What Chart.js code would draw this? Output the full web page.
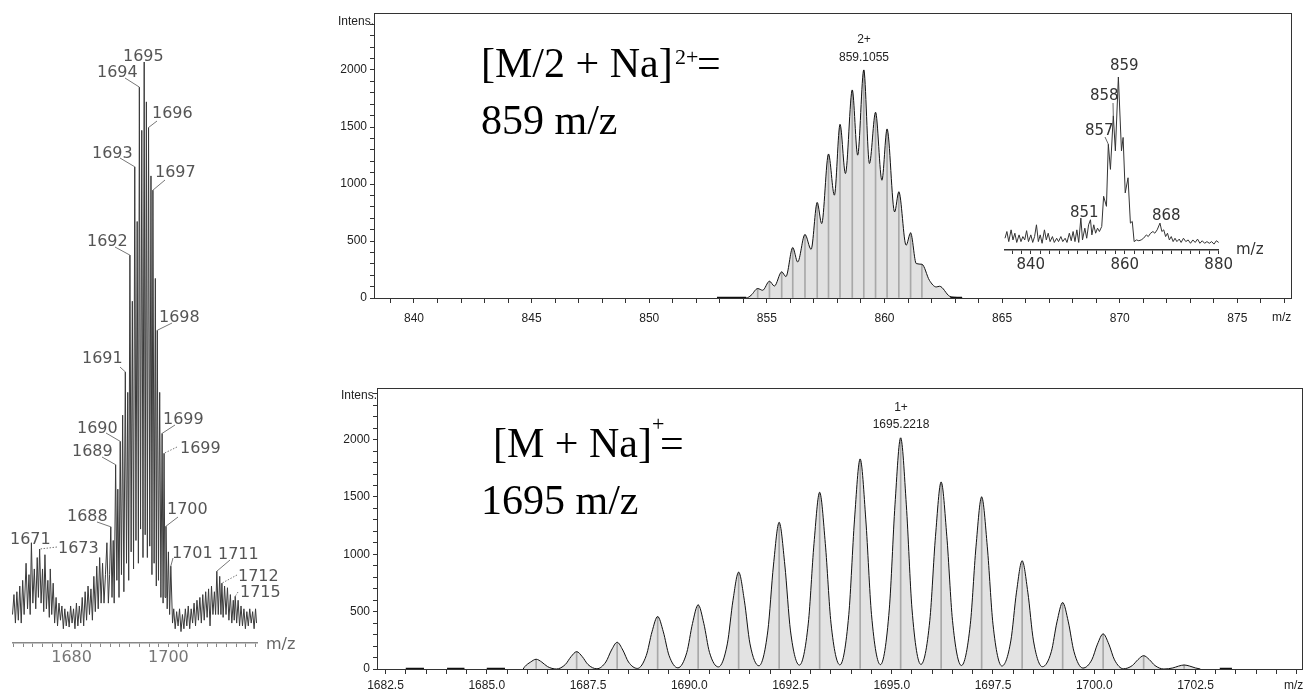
<!DOCTYPE html>
<html>
<head>
<meta charset="utf-8">
<title>MS spectra</title>
<script src="https://cdn.jsdelivr.net/npm/chart.js@4.4.1/dist/chart.umd.min.js"></script>
<style>
  html,body{margin:0;padding:0;background:#fff}
  #fig{position:relative;width:1304px;height:697px;overflow:hidden;background:#fff}
  #fig canvas{position:absolute}
  .t{position:absolute;white-space:nowrap;line-height:1}
  .pk{font-family:"DejaVu Sans",sans-serif;font-size:16px;color:#555}
  .ins{font-family:"DejaVu Sans",sans-serif;font-size:15px;color:#333}
  .nar{font-family:"Liberation Sans Narrow","Arial Narrow","Liberation Sans",sans-serif;font-size:12px;color:#222}
  .ctr{transform:translateX(-50%)}
  .big{font-family:"Liberation Serif","Times New Roman",serif;font-size:42px;color:#000}
  .sup{font-family:"Liberation Serif","Times New Roman",serif;font-size:22px;color:#000}
</style>
</head>
<body>
<div id="fig">
  <canvas id="cLeft" width="300" height="697" style="left:0;top:0;width:300px;height:697px"></canvas>
  <canvas id="cTop" width="974" height="340" style="left:330px;top:0;width:974px;height:340px"></canvas>
  <canvas id="cBot" width="974" height="327" style="left:330px;top:370px;width:974px;height:327px"></canvas>
  <canvas id="cIns" width="240" height="220" style="left:995px;top:60px;width:240px;height:220px"></canvas>

  <div class="t big" style="left:481px;top:42px">[M/2 + Na]</div>
  <div class="t sup" style="left:675px;top:46px">2+</div>
  <div class="t big" style="left:697px;top:42px">=</div>
  <div class="t big" style="left:481px;top:99px">859 m/z</div>

  <div class="t big" style="left:493px;top:422px">[M + Na]</div>
  <div class="t sup" style="left:652px;top:413px">+</div>
  <div class="t big" style="left:660px;top:422px">=</div>
  <div class="t big" style="left:481px;top:479px">1695 m/z</div>

  <div class="t nar" style="left:338px;top:15px">Intens.</div>
  <div class="t nar ctr" style="left:864px;top:33px">2+</div>
  <div class="t nar ctr" style="left:864px;top:51px">859.1055</div>
  <div class="t nar" style="left:1272px;top:311px">m/z</div>

  <div class="t nar" style="left:341px;top:389px">Intens.</div>
  <div class="t nar ctr" style="left:901px;top:401px">1+</div>
  <div class="t nar ctr" style="left:901px;top:418px">1695.2218</div>
  <div class="t nar" style="left:1284px;top:679px">m/z</div>

  <div class="t ins" style="left:1236px;top:242px">m/z</div>
  <div class="t pk" style="left:266px;top:636px;color:#666">m/z</div>
</div>
<script>
// ---------- left panel: raw spectrum (relative intensity, %) ----------
const leftMz = [
  1667.8,1668.1,1668.4,1668.7,1669.0,1669.3,1669.6,1669.9,1670.2,1670.6,1670.9,1671.2,1671.45,1671.7,
  1672.0,1672.3,1672.6,1672.9,1673.15,1673.4,1673.7,1674.0,1674.25,1674.5,1674.8,1675.1,1675.4,1675.6,
  1675.9,1676.2,1676.5,1676.8,1677.1,1677.4,1677.7,1678.0,1678.3,1678.6,1678.9,1679.2,1679.5,1679.8,
  1680.1,1680.4,1680.7,1681.0,1681.3,1681.6,1681.9,1682.2,1682.5,1682.8,1683.1,1683.4,1683.7,1684.0,
  1684.3,1684.6,1684.9,1685.2,1685.5,1685.8,1686.1,1686.4,1686.7,1687.0,1687.3,1687.6,1687.85,
  1688.1,1688.35,1688.6,1688.8,1689.1,1689.35,1689.55,1689.8,1690.05,1690.3,1690.55,1690.8,
  1691.1,1691.35,1691.6,1691.8,1692.05,1692.3,1692.55,1692.8,1693.05,1693.3,1693.55,1693.8,
  1694.0,1694.25,1694.5,1694.75,1695.0,1695.2,1695.45,1695.65,1695.9,1696.15,1696.4,1696.6,
  1696.8,1697.05,1697.3,1697.5,1697.7,1697.95,1698.2,1698.45,1698.7,1698.9,1699.1,1699.3,
  1699.5,1699.75,1700.0,1700.25,1700.5,1700.85,
  1701.1,1701.4,1701.7,1702.0,1702.3,1702.6,1702.9,1703.2,1703.5,1703.8,1704.1,1704.4,1704.7,
  1705.0,1705.3,1705.6,1705.9,1706.2,1706.5,1706.8,1707.1,1707.4,1707.7,1708.0,1708.3,1708.6,
  1708.9,1709.2,1709.5,1709.75,1710.0,1710.3,1710.6,1710.85,1711.05,1711.3,1711.6,1711.9,1712.2,
  1712.5,1712.8,1713.1,1713.4,1713.6,1713.8,1714.1,1714.4,1714.7,1715.0,1715.3,1715.6,1715.9,
  1716.2,1716.5,1716.8,1717.1,1717.4,1717.7,1718.0,1718.2
]
const leftInt = [
  3,6.5,1.5,7,2,8,1.5,9,3,12,4,10,3,15.6,
  5,11,4,13,6,14.5,5,11,3.5,13.5,4,9,2.5,11,
  3,8.5,1.5,6,1,5,2,4.5,0.5,4,1,3.5,0.8,4.5,
  1.5,4,0.5,5,1,4.5,1.5,6,1,7,2,8,3,7.5,
  2,9.7,3.5,11.5,4,13,5,12,5,10,15.6,5,10,
  18.4,6,16,5,29.3,9,25,6,33.4,10,38,7,
  45.6,12,42,9,66.1,14,58,11,81.6,16,72,12,
  95.6,18,88,13,100,17,93,13,88.5,15,80,10,
  77.5,12,62,8,52.9,9,42,6,34.8,5,31.3,6,
  18.5,4,14,3,11.5,1.5,
  4,0.5,3.5,1,4,0,3,0.5,4,1,4.5,0.5,4,
  1.5,5,1,5.5,2,6,1.5,6.5,2,7,2.5,7.5,1,
  8,3,7,3,10.6,3,9.7,3,8.5,2.5,8,3,7.7,
  2,6.5,1.5,5.5,2,6.2,1.5,5.5,1,4.5,1,4,0.5,
  3.5,1,4,1.5,3.5,0.5,4,1.5
]
const leftTickLabels = [1680, 1700]
// labelled peaks: text, peak m/z (value looked up in leftInt)
const leftPeakText = ['1695','1694','1696','1693','1697','1692','1698','1691','1699','1690','1699','1689','1688','1700','1671','1673','1701','1711','1712','1715']
const leftPeakMz   = [1695.0,1694.0,1695.9,1693.05,1696.8,1692.05,1697.7,1691.1,1698.7,1690.05,1699.1,1689.1,1688.1,1699.5,1671.7,1673.4,1700.5,1710.0,1711.05,1713.8]

// ---------- top panel: [M/2+Na]2+ ----------
const topMz  = [852.88,854.12,854.33,854.61,854.82,855.11,855.32,855.63,855.81,856.10,856.31,856.62,856.88,857.14,857.33,857.62,857.87,858.11,858.34,858.63,858.86,859.12,859.36,859.62,859.89,860.11,860.43,860.61,860.92,861.11,861.35,861.59,861.91,862.20,862.34,862.77,863.05,863.3]
const topInt = [0,0,24,83,68,147,105,229,188,442,316,557,427,837,653,1262,902,1522,1092,1824,1253,2000,1180,1628,1033,1481,755,931,463,571,302,296,155,97,103,15,5,0]
const topStickMz  = [854.61,855.11,855.63,856.10,856.62,857.14,857.62,858.11,858.63,859.12,859.62,860.11,860.61,861.11,861.59]
const topStickInt = [83,147,229,442,557,837,1262,1522,1824,2000,1628,1481,931,571,296]
const topFlatMz  = [852.88,854.12,858,862.8,863.3]
const topFlatInt = [0,0,null,0,0]

// ---------- inset: low-resolution spectrum around 859 ----------
const insMz = [834.5,834.9,835.3,835.8,836.2,836.6,837.0,837.5,837.9,838.3,838.7,839.1,839.5,840.0,840.4,840.8,841.2,841.6,842.0,842.4,842.9,843.3,843.7,844.1,844.6,845.0,845.5,845.9,846.4,846.8,847.3,847.7,848.2,848.6,849.0,849.4,849.8,850.2,850.65,851.0,851.5,851.9,852.3,852.7,853.0,853.4,853.8,854.2,854.6,855.1,855.5,856.1,856.5,856.95,857.56,858.0,858.64,859.3,859.65,860.1,860.7,861.2,861.6,862.0,862.5,863.0,863.5,864.0,864.6,865.0,865.5,866.0,866.4,866.9,867.5,867.9,868.3,868.7,869.1,869.5,869.9,870.3,870.7,871.1,871.6,872.0,872.5,873.0,873.5,874.0,874.5,875.0,875.5,876.0,876.5,877.0,877.5,878.0,878.5,879.0,879.5,880.0]
const insInt = [4,8,2,9,3,7,1.5,6,2,5,3,8.5,2,6,1.5,5,12,2,6,1,9,3,7,2,5,1.5,4,2,5,2,4,1.5,7,2.5,8,2,9,1.5,16,3,10,4,12,15,6,12,7,10,8,11,29,23,60,45,77,56,100,56,64,31,40,13,14,2,3,2.5,3,4,6,5,7,8,7,9,13,8,9,5,7,3,5,2,4,2,3.5,1.5,4,2,3,1,3,1.5,3.5,1,2.5,1,2,1,2,0.5,2.5,1.5]
const insTickLabels = [840, 860, 880]
const insPeakText = ['859','858','857','851','868']
const insPeakMz   = [858.64,857.56,856.5,850.65,867.5]

// ---------- bottom panel: [M+Na]+ ----------
const botMz = [1685.9,
  1685.94,1686.08,1686.22,1686.36,1686.5,1686.72,
  1686.94,1687.08,1687.22,1687.36,1687.5,1687.72,
  1687.94,1688.08,1688.22,1688.36,1688.5,1688.72,
  1688.94,1689.08,1689.22,1689.36,1689.5,1689.72,
  1689.94,1690.08,1690.22,1690.36,1690.5,1690.72,
  1690.94,1691.08,1691.22,1691.36,1691.5,1691.72,
  1691.94,1692.08,1692.22,1692.36,1692.5,1692.72,
  1692.94,1693.08,1693.22,1693.36,1693.5,1693.72,
  1693.94,1694.08,1694.22,1694.36,1694.5,1694.72,
  1694.94,1695.08,1695.22,1695.36,1695.5,1695.72,
  1695.94,1696.08,1696.22,1696.36,1696.5,1696.72,
  1696.94,1697.08,1697.22,1697.36,1697.5,1697.72,
  1697.94,1698.08,1698.22,1698.36,1698.5,1698.72,
  1698.94,1699.08,1699.22,1699.36,1699.5,1699.72,
  1699.94,1700.08,1700.22,1700.36,1700.5,1700.72,
  1700.94,1701.08,1701.22,1701.36,1701.5,1701.72,
  1701.94,1702.08,1702.22,1702.36,1702.5,1702.62]
const botInt = [0,
  21,60,85,60,21,0,
  39,107,151,107,39,2,
  61,165,233,165,61,5,
  119,324,457,324,119,10,
  145,397,559,397,145,18,
  219,599,844,599,219,28,
  332,907,1278,907,332,34,
  400,1093,1540,1093,400,36,
  476,1300,1831,1300,476,38,
  524,1431,2015,1431,524,40,
  424,1157,1630,1157,424,30,
  390,1065,1500,1065,390,26,
  245,670,943,670,245,20,
  151,411,579,411,151,8,
  80,217,306,217,80,2,
  30,82,116,82,30,0,
  9,25,35,25,9,0]
const botStickMz  = [1686.22,1687.22,1688.22,1689.22,1690.22,1691.22,1692.22,1693.22,1694.22,1695.22,1696.22,1697.22,1698.22,1699.22,1700.22,1701.22,1702.22]
const botStickInt = [85,151,233,457,559,844,1278,1540,1831,2015,1630,1500,943,579,306,116,35]
const botFlatMz  = [1683.0,1683.45,1683.7,1684.02,1684.45,1684.7,1685.0,1685.45,1695,1703.1,1703.4]
const botFlatInt = [0,0,null,0,0,null,0,0,null,0,0]

// ---------- helpers ----------
const pts = (xs, ys) => xs.map((x, i) => ({ x, y: ys[i] }))
const narrow = { family: '"Liberation Sans Narrow","Arial Narrow","Liberation Sans",sans-serif', size: 12 }
const wide = size => ({ family: '"DejaVu Sans",sans-serif', size })
const near = (v, step) => Math.abs(v / step - Math.round(v / step)) < 1e-6

const framePlugin = {
  id: 'frame',
  afterDraw(chart) {
    const a = chart.chartArea, c = chart.ctx
    c.save(); c.strokeStyle = '#333'; c.lineWidth = 1
    c.strokeRect(Math.round(a.left) + 0.5, Math.round(a.top) + 0.5, Math.round(a.right - a.left), Math.round(a.bottom - a.top))
    c.restore()
  }
}

// leader lines: from a label (page px) to the peak read through the scales
function leaders(items, mzArr, intArr, dx, dy, color) {
  return {
    id: 'leaders',
    afterDatasetsDraw(chart) {
      const { ctx, scales } = chart
      ctx.save(); ctx.strokeStyle = color; ctx.lineWidth = 1
      items.forEach(it => {
        const i = mzArr.indexOf(it.mz)
        ctx.setLineDash(it.dotted ? [1.5, 1.5] : [])
        ctx.beginPath()
        ctx.moveTo(it.fx - dx, it.fy - dy)
        ctx.lineTo(scales.x.getPixelForValue(it.mz), scales.y.getPixelForValue(intArr[i]))
        ctx.stroke()
      })
      ctx.restore()
    }
  }
}

function peakLabels(texts, boxes, cls) {
  const fig = document.getElementById('fig')
  texts.forEach((t, i) => {
    if (!boxes[i]) return
    const d = document.createElement('div')
    d.className = 't ' + cls
    d.style.left = boxes[i][0] + 'px'; d.style.top = boxes[i][1] + 'px'
    d.textContent = t
    fig.appendChild(d)
  })
}

const base = { responsive: false, animation: false, devicePixelRatio: 1, events: [] }
const noPlug = { legend: { display: false }, tooltip: { enabled: false } }

// ---------- left panel ----------
const leftLeaderItems = [
  { mz: 1694.0, fx: 125, fy: 78 }, { mz: 1695.9, fx: 157, fy: 121 }, { mz: 1693.05, fx: 120, fy: 158 },
  { mz: 1696.8, fx: 165, fy: 180 }, { mz: 1692.05, fx: 115, fy: 247 }, { mz: 1697.7, fx: 172, fy: 323 },
  { mz: 1691.1, fx: 120, fy: 367 }, { mz: 1698.7, fx: 175, fy: 425 }, { mz: 1690.05, fx: 106, fy: 433 },
  { mz: 1699.1, fx: 177, fy: 447, dotted: true }, { mz: 1689.1, fx: 102, fy: 457 }, { mz: 1688.1, fx: 97, fy: 522 },
  { mz: 1699.5, fx: 178, fy: 517 }, { mz: 1673.4, fx: 57, fy: 547, dotted: true }, { mz: 1700.5, fx: 173, fy: 558 },
  { mz: 1710.0, fx: 230, fy: 560 }, { mz: 1711.05, fx: 237, fy: 575, dotted: true }, { mz: 1713.8, fx: 238, fy: 592, dotted: true }
]
new Chart(document.getElementById('cLeft'), {
  type: 'line',
  data: { datasets: [{ data: pts(leftMz, leftInt), borderColor: '#3a3a3a', borderWidth: 1, pointRadius: 0, tension: 0, clip: false }] },
  options: {
    ...base,
    layout: { padding: { left: 13, right: 43, top: 62, bottom: 14 } },
    plugins: noPlug,
    scales: {
      x: {
        type: 'linear', min: 1667.9, max: 1718.3, afterFit: s => { s.height = 40 },
        border: { color: '#888', width: 1.5 },
        grid: { drawOnChartArea: false, drawTicks: true, tickLength: 4, color: '#888' },
        ticks: { stepSize: 2, includeBounds: false, autoSkip: false, maxRotation: 0, padding: 1, color: '#777', font: wide(16),
                 callback: v => leftTickLabels.includes(v) ? String(v) : '' }
      },
      y: { display: false, min: -2, max: 100 }
    }
  },
  plugins: [leaders(leftLeaderItems, leftMz, leftInt, 0, 0, '#777')]
})
peakLabels(leftPeakText, [[123,48],[97,64],[152,105],[92,145],[155,164],[87,233],[159,309],[82,350],[163,411],[77,420],
  [180,440],[72,443],[67,508],[167,501],[10,531],[58,540],[172,545],[218,546],[238,568],[240,584]], 'pk')

// ---------- top / bottom panels ----------
function specChart(id, o) {
  return new Chart(document.getElementById(id), {
    type: 'line',
    data: { datasets: [
      { data: o.line, borderWidth: 1, borderColor: '#111', pointRadius: 0, cubicInterpolationMode: 'monotone', fill: false, order: 0 },
      { type: 'bar', data: o.sticks, backgroundColor: o.stickColor, borderWidth: 0, barThickness: 1, order: 1 },
      { data: o.line, borderWidth: 0, backgroundColor: o.fillColor, pointRadius: 0, cubicInterpolationMode: 'monotone', fill: 'origin', order: 2 },
      { data: o.flat, borderWidth: 2.5, borderColor: '#111', pointRadius: 0, spanGaps: false, fill: false, order: 0 }
    ] },
    options: {
      ...base,
      layout: { padding: o.pad },
      plugins: noPlug,
      scales: {
        x: {
          type: 'linear', min: o.xmin, max: o.xmax, offset: false, afterFit: s => { s.height = o.xh },
          border: { color: '#333', width: 1 },
          grid: { offset: false, drawOnChartArea: false, drawTicks: true, tickLength: 5, color: '#333' },
          ticks: { stepSize: o.xstep, includeBounds: false, autoSkip: false, maxRotation: 0, padding: o.xpad, color: '#222', font: narrow, callback: o.xcb }
        },
        y: {
          min: 0, max: o.ymax, afterFit: s => { s.width = o.yw },
          afterBuildTicks: s => { s.ticks = s.ticks.filter(t => t.value < 2500) },
          border: { color: '#333', width: 1 },
          grid: { drawOnChartArea: false, drawTicks: true, tickLength: 4, color: '#333' },
          ticks: { stepSize: 100, includeBounds: false, autoSkip: false, padding: 3, color: '#222', font: narrow,
                   callback: v => near(v, 500) ? String(v) : '' }
        }
      }
    },
    plugins: [framePlugin]
  })
}

specChart('cTop', {
  line: pts(topMz, topInt), sticks: pts(topStickMz, topStickInt), flat: pts(topFlatMz, topFlatInt),
  stickColor: '#a8a8a8', fillColor: '#e1e1e1',
  pad: { left: 0, right: 13, top: 13, bottom: 12 }, xh: 30, yw: 44, xpad: 8,
  xmin: 838.3, xmax: 877.28, xstep: 1, ymax: 2500,
  xcb: v => near(v, 5) ? String(v) : ''
})

specChart('cBot', {
  line: pts(botMz, botInt), sticks: pts(botStickMz, botStickInt), flat: pts(botFlatMz, botFlatInt),
  stickColor: '#a8a8a8', fillColor: '#e3e3e3',
  pad: { left: 0, right: 2, top: 18, bottom: 8 }, xh: 20, yw: 47, xpad: 4,
  xmin: 1682.29, xmax: 1705.13, xstep: 0.5, ymax: 2450,
  xcb: v => (near(v, 2.5) && v < 1704) ? v.toFixed(1) : ''
})

// ---------- inset ----------
const insLeaderItems = [ { mz: 857.56, fx: 1113, fy: 103 }, { mz: 856.5, fx: 1105, fy: 137 } ]
new Chart(document.getElementById('cIns'), {
  type: 'line',
  data: { datasets: [{ data: pts(insMz, insInt), borderColor: '#333', borderWidth: 1, pointRadius: 0, tension: 0, clip: false }] },
  options: {
    ...base,
    layout: { padding: { left: 10, right: 8, top: 17, bottom: 8 } },
    plugins: noPlug,
    scales: {
      x: {
        type: 'linear', min: 834.5, max: 880, afterFit: s => { s.height = 22 },
        border: { color: '#333', width: 1.5 },
        grid: { drawOnChartArea: false, drawTicks: true, tickLength: 4, color: '#333' },
        ticks: { stepSize: 2, includeBounds: false, autoSkip: false, maxRotation: 0, padding: 2, color: '#333', font: wide(15),
                 callback: v => insTickLabels.includes(v) ? String(v) : '' }
      },
      y: { display: false, min: -3, max: 100 }
    }
  },
  plugins: [leaders(insLeaderItems, insMz, insInt, 995, 60, '#666')]
})
peakLabels(insPeakText, [[1110,58],[1090,88],[1085,123],[1070,205],[1152,208]], 'ins')
</script>
</body>
</html>
